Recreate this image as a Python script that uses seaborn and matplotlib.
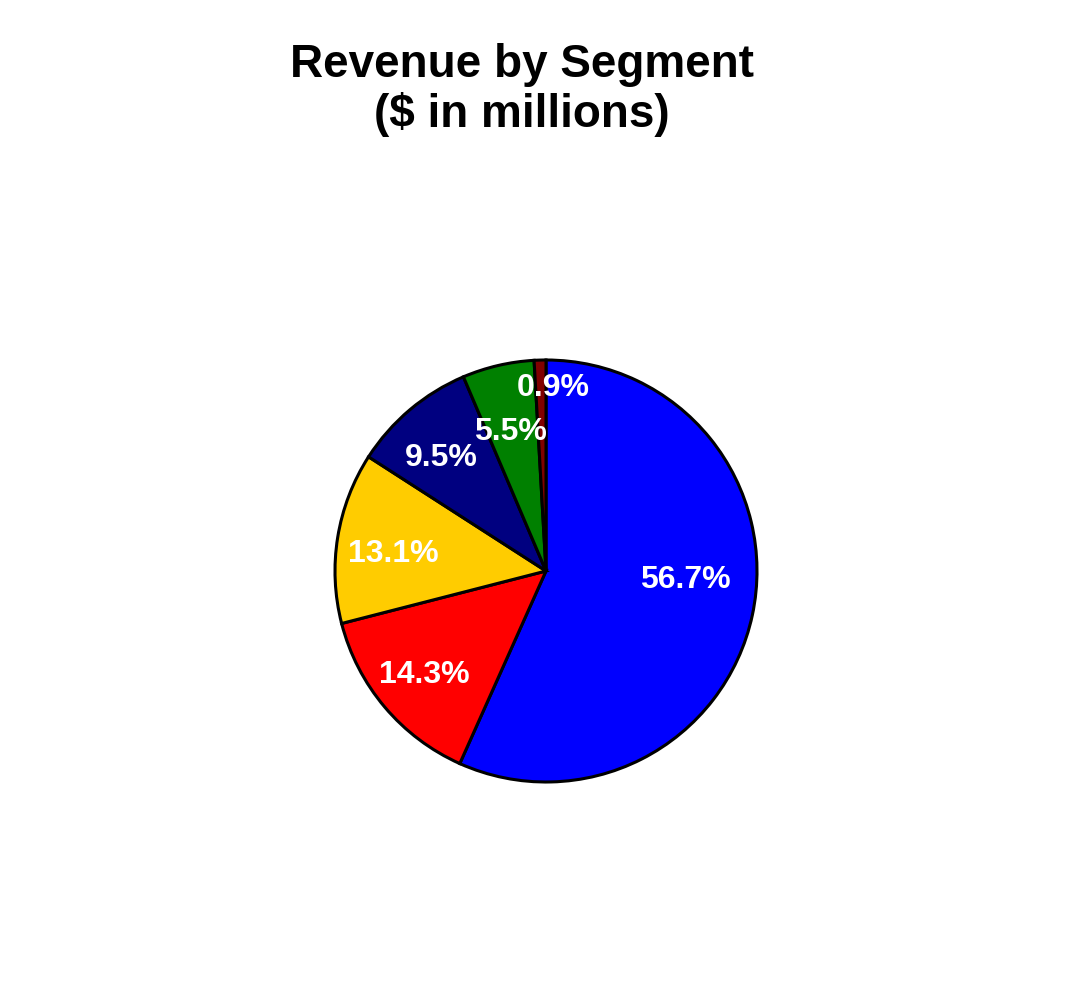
import numpy as np
import matplotlib
matplotlib.use("Agg")
import matplotlib.pyplot as plt
import seaborn as sns

# Datos del gráfico
segments = ["Segment A", "Segment B", "Segment C", "Segment D", "Segment E", "Segment F"]
shares = [56.7, 14.3, 13.1, 9.5, 5.5, 0.9]
colors = ["#0000FF", "#FF0000", "#FFCC00", "#000080", "#008000", "#800000"]

# Posición de las etiquetas (fracción del radio, desplazamiento angular en grados)
label_dist = [0.66, 0.76, 0.73, 0.73, 0.68, 0.87]
label_shift = [8.5, 0.5, 3.0, 2.5, 1.0, -3.8]

sns.set_theme(style="white")
plt.rcParams["font.family"] = ["Liberation Sans", "DejaVu Sans"]

fig = plt.figure(figsize=(10.91, 9.91), dpi=100)
ax = fig.add_axes([335 / 1091, 1 - 782 / 991, 422 / 1091, 422 / 991])

wedges, texts, autotexts = ax.pie(
    shares, colors=colors, startangle=90, counterclock=False,
    autopct="%.1f%%", radius=1.0,
    wedgeprops=dict(edgecolor="black", linewidth=2.2),
    textprops=dict(color="white", fontsize=23, fontweight="bold",
                   family="Liberation Sans"),
)

for w, t, d, s in zip(wedges, autotexts, label_dist, label_shift):
    mid = np.deg2rad((w.theta1 + w.theta2) / 2 + s)
    t.set_position((d * np.cos(mid), d * np.sin(mid)))
    t.set_ha("center")
    t.set_va("center")

ax.set_xlim(-1, 1)
ax.set_ylim(-1, 1)
ax.set_aspect("equal")
ax.axis("off")

fig.text(522 / 1091, 1 - 90 / 991, "Revenue by Segment\n($ in millions)",
         ha="center", va="center", fontsize=33, fontweight="bold",
         family="Liberation Sans", color="black", linespacing=1.15)

fig.savefig("out.png", dpi=100, facecolor="white")
